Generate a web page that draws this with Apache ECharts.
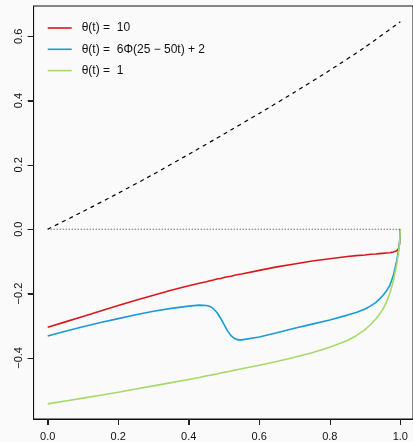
<!DOCTYPE html>
<html>
<head>
<meta charset="utf-8">
<script src="https://cdn.jsdelivr.net/npm/echarts@6/dist/echarts.min.js"></script>
<style>
html,body{margin:0;padding:0;background:#fafafa;}
#chart{width:413px;height:442px;}
</style>
</head>
<body>
<div id="chart"></div>
<script>
// ---- data ----
const tGrid = [0,0.05,0.1,0.15,0.2,0.25,0.3,0.35,0.4,0.43,0.45,0.46,0.47,0.48,0.49,0.5,0.51,0.52,0.53,0.54,0.55,0.6,0.65,0.7,0.75,0.8,0.85,0.875,0.9,0.915,0.93,0.94,0.95,0.96,0.97,0.98,0.99,0.995,0.998,1.0];
const redVals = [-0.305,-0.288,-0.271,-0.254,-0.237,-0.221,-0.205,-0.190,-0.176,-0.168,-0.163,-0.160,-0.158,-0.155,-0.153,-0.150,-0.148,-0.146,-0.143,-0.141,-0.139,-0.128,-0.117,-0.108,-0.099,-0.092,-0.085,-0.082,-0.080,-0.078,-0.077,-0.076,-0.075,-0.074,-0.073,-0.071,-0.067,-0.060,-0.045,0];
const blueVals = [-0.332,-0.317,-0.303,-0.290,-0.278,-0.266,-0.255,-0.246,-0.239,-0.236,-0.237,-0.240,-0.247,-0.259,-0.276,-0.296,-0.316,-0.331,-0.340,-0.344,-0.344,-0.335,-0.322,-0.308,-0.295,-0.282,-0.267,-0.259,-0.248,-0.239,-0.228,-0.218,-0.207,-0.193,-0.175,-0.145,-0.097,-0.065,-0.040,0];
const greenVals = [-0.543,-0.534,-0.525,-0.516,-0.507,-0.497,-0.487,-0.477,-0.467,-0.461,-0.456,-0.454,-0.452,-0.450,-0.447,-0.445,-0.443,-0.441,-0.438,-0.436,-0.434,-0.423,-0.411,-0.398,-0.384,-0.367,-0.346,-0.331,-0.312,-0.297,-0.280,-0.266,-0.250,-0.229,-0.200,-0.162,-0.108,-0.072,-0.045,0];
const dashX = [0,0.1,0.2,0.3,0.4,0.5,0.6,0.7,0.8,0.9,1.0];
const dashVals = [0,0.055,0.112,0.171,0.233,0.296,0.36,0.426,0.494,0.566,0.645];
const zeroX = [0,1];
const zeroVals = [0,0];
const seriesNames = ['θ(t) =  10', 'θ(t) =  6Φ(25 − 50t) + 2', 'θ(t) =  1'];
const xTicks = [0,0.2,0.4,0.6,0.8,1.0];
const yTicks = [-0.4,-0.2,0,0.2,0.4,0.6];

const X_MIN = -0.04, X_MAX = 1.036, Y_MIN = -0.59, Y_MAX = 0.694;
const pairs = (xs, ys) => xs.map((x,i)=>[x, ys[i]]);
const fmt = v => { const s = Number(v).toFixed(1); return s.replace('-', '−'); };
const FONT = 'Liberation Sans, Arial, Helvetica, sans-serif';
const LINE_ICON = 'path://M0,0 M0,6.2 L24,6.2 L24,7.8 L0,7.8 Z M24,14';

const chart = echarts.init(document.getElementById('chart'), null, {renderer:'canvas'});
chart.setOption({
  backgroundColor: '#fafafa',
  animation: false,
  textStyle: {fontFamily: FONT},
  grid: {left: 33.6, top: 6, right: 0, bottom: 23, show: true, borderColor: '#111', borderWidth: 1},
  legend: {
    orient: 'vertical', left: 47.7, top: 21, padding: 0, itemWidth: 24, itemHeight: 14, itemGap: 7.3,
    icon: LINE_ICON,
    data: seriesNames,
    textStyle: {fontFamily: FONT, fontSize: 12, color: '#111', padding: [0,0,0,5]}
  },
  xAxis: {
    type: 'value', min: X_MIN, max: X_MAX,
    splitLine: {show: false},
    axisLine: {show: true, onZero: false, lineStyle: {color: '#111', width: 1}},
    axisTick: {show: true, inside: false, length: 6, customValues: xTicks, lineStyle: {color: '#222'}},
    axisLabel: {show: true, customValues: xTicks, formatter: fmt, fontSize: 11, color: '#111', margin: 12, fontFamily: FONT}
  },
  yAxis: {
    type: 'value', min: Y_MIN, max: Y_MAX,
    splitLine: {show: false},
    axisLine: {show: true, onZero: false, lineStyle: {color: '#111', width: 1}},
    axisTick: {show: true, inside: false, length: 6, customValues: yTicks, lineStyle: {color: '#222'}},
    axisLabel: {show: true, customValues: yTicks, formatter: fmt, fontSize: 11, color: '#111', rotate: 90, margin: 9, fontFamily: FONT}
  },
  series: [
    {name: seriesNames[0], type: 'line', data: pairs(tGrid, redVals), symbol: 'none', lineStyle: {color: '#d7191c', width: 1.6}, itemStyle: {color: '#d7191c'}},
    {name: seriesNames[1], type: 'line', data: pairs(tGrid, blueVals), symbol: 'none', lineStyle: {color: '#1a9bd7', width: 1.6}, itemStyle: {color: '#1a9bd7'}},
    {name: seriesNames[2], type: 'line', data: pairs(tGrid, greenVals), symbol: 'none', lineStyle: {color: '#a6d96a', width: 1.6}, itemStyle: {color: '#a6d96a'}},
    {name: 'dashed', type: 'line', data: pairs(dashX, dashVals), symbol: 'none', smooth: 0.2, lineStyle: {color: '#000', width: 1.2, type: [4,4]}},
    {name: 'zero', type: 'line', data: pairs(zeroX, zeroVals), symbol: 'none', lineStyle: {color: '#333', width: 1, type: [1,2]}}
  ]
});

// extra tick marks placed through the chart's own axis scales
const TICK_LEN = 6;
const tickEls = [];
const xEdge = chart.convertToPixel({xAxisIndex: 0}, X_MIN);
const yEdge = chart.convertToPixel({yAxisIndex: 0}, Y_MIN);
xTicks.forEach(v => {
  const px = chart.convertToPixel({xAxisIndex: 0}, v);
  if (isFinite(px) && isFinite(yEdge)) {
    const x = Math.round(px) + 0.5, y = Math.round(yEdge);
    tickEls.push({type: 'line', z: 100, silent: true, shape: {x1: x, y1: y, x2: x, y2: y + TICK_LEN}, style: {stroke: '#222', lineWidth: 1}});
  }
});
yTicks.forEach(v => {
  const py = chart.convertToPixel({yAxisIndex: 0}, v);
  if (isFinite(py) && isFinite(xEdge)) {
    const x = Math.round(xEdge), y = Math.round(py) + 0.5;
    tickEls.push({type: 'line', z: 100, silent: true, shape: {x1: x - TICK_LEN, y1: y, x2: x, y2: y}, style: {stroke: '#222', lineWidth: 1}});
  }
});
if (tickEls.length) chart.setOption({graphic: {elements: tickEls}});
</script>
</body>
</html>
